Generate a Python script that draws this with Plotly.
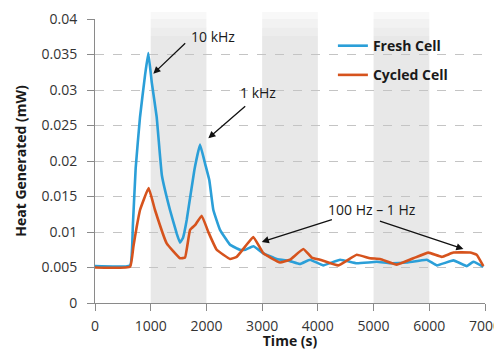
import plotly.graph_objects as go

# ---- data ----
fresh_t = [0, 630, 680, 730, 808, 900, 957, 1020, 1107, 1200, 1346, 1466, 1526, 1580, 1646, 1783, 1885, 1980, 2052,
           2124, 2244, 2424, 2603, 2700, 2842, 3022, 3262, 3500, 3680, 3860, 4093, 4399, 4698,
           5057, 5296, 5596, 5955, 6134, 6433, 6673, 6792, 6970]
fresh_v = [0.0052, 0.0053, 0.011, 0.019, 0.0262, 0.0322, 0.0352, 0.031, 0.0262, 0.018, 0.0131, 0.0098, 0.0085, 0.0092,
           0.0117, 0.0187, 0.0223, 0.0195, 0.0173, 0.0131, 0.0103, 0.0082, 0.0075, 0.0075, 0.008,
           0.007, 0.0062, 0.0059, 0.0055, 0.0061, 0.0053, 0.0061, 0.0056, 0.0058, 0.0056, 0.0057,
           0.0061, 0.0053, 0.006, 0.0052, 0.0058, 0.0051]

cycled_t = [0, 630, 690, 748, 808, 963, 1077, 1287, 1526, 1616, 1706, 1800, 1915, 2034, 2184, 2424, 2543,
            2700, 2842, 3022, 3321, 3501, 3740, 3890, 4039, 4369, 4698, 4937, 5117, 5416, 5715,
            5984, 6223, 6433, 6733, 6850, 6970]
cycled_v = [0.005, 0.0051, 0.008, 0.0107, 0.0131, 0.0162, 0.0131, 0.0084, 0.0063, 0.0064, 0.0103, 0.011,
            0.0123, 0.01, 0.0075, 0.0062, 0.0065, 0.008, 0.0093, 0.007, 0.0057, 0.0061, 0.0076,
            0.0064, 0.0061, 0.0053, 0.0068, 0.0063, 0.0062, 0.0054, 0.0063, 0.0071, 0.0065, 0.0071,
            0.0071, 0.0068, 0.0052]

shaded_bands = [(1000, 2000), (3000, 4000), (5000, 6000)]
x_ticks = [0, 1000, 2000, 3000, 4000, 5000, 6000, 7000]
y_ticks = [0, 0.005, 0.01, 0.015, 0.02, 0.025, 0.03, 0.035, 0.04]
y_tick_text = ["0", "0.005", "0.01", "0.015", "0.02", "0.025", "0.03", "0.035", "0.04"]

labels = [
    # text, text_x, text_y, [(head_x, head_y, tail_x, tail_y), ...]
    ("10 kHz", 2118, 0.0376, [(1047, 0.0323, 1646, 0.0368)]),
    ("1 kHz", 2932, 0.0296, [(2034, 0.0232, 2723, 0.0279)]),
    ("100 Hz – 1 Hz", 4967, 0.0132, [(2993, 0.0086, 4279, 0.0118), (6613, 0.0076, 5087, 0.0116)]),
]

BLUE = "#2b9fd8"
RED = "#d6531d"
FONT = "Open Sans"

fig = go.Figure()
fig.add_trace(go.Scatter(x=fresh_t, y=fresh_v, mode="lines", name="Fresh Cell", legendgroup="a",
                         line=dict(color=BLUE, width=2.6, shape="spline", smoothing=0.3)))
fig.add_trace(go.Scatter(x=cycled_t, y=cycled_v, mode="lines", name="Cycled Cell", legendgroup="b",
                         line=dict(color=RED, width=2.6, shape="spline", smoothing=0.3)))

for x0, x1 in shaded_bands:
    fig.add_shape(type="rect", xref="x", yref="paper", x0=x0, x1=x1, y0=0, y1=0.94,
                  fillcolor="#e8e8e8", line_width=0, layer="below")
    steps = [(0.94, 0.97, 0.8), (0.97, 1.0, 0.55), (1.0, 1.025, 0.3)]
    for a, b, op in steps:
        fig.add_shape(type="rect", xref="x", yref="paper", x0=x0, x1=x1, y0=a, y1=b,
                      fillcolor="#e8e8e8", opacity=op, line_width=0, layer="below")

for text, tx, ty, arrows in labels:
    fig.add_annotation(x=tx, y=ty, text=text, showarrow=False, xref="x", yref="y",
                       font=dict(family=FONT, size=14, color="#1a1a1a"))
    for hx, hy, ax, ay in arrows:
        fig.add_annotation(x=hx, y=hy, ax=ax, ay=ay, xref="x", yref="y", axref="x", ayref="y",
                           text="", showarrow=True, arrowhead=2, arrowsize=1.1, arrowwidth=1.3,
                           arrowcolor="#111")

fig.update_layout(
    width=494, height=342,
    margin=dict(l=87, r=17, t=11, b=47, autoexpand=False),
    paper_bgcolor="white", plot_bgcolor="white",
    font=dict(family=FONT, size=14, color="#333"),
    showlegend=True,
    legend=dict(x=0.61, y=0.961, xanchor="left", yanchor="top", bgcolor="rgba(0,0,0,0)",
                font=dict(family=FONT, size=14, color="#1a1a1a", weight="bold"),
                itemwidth=30, tracegroupgap=8),
)
fig.update_xaxes(range=[0, 7000], tickvals=x_ticks, showgrid=False, zeroline=False,
                 showline=True, linecolor="#8a8a8a", linewidth=1, automargin=False,
                 ticks="outside", ticklen=7, tickcolor="#8a8a8a", ticklabelstandoff=3,
                 ticklabeloverflow="allow",
                 title=dict(text="<b>Time (s)</b>", standoff=0, font=dict(size=14, color="#1a1a1a")))
fig.update_yaxes(range=[0, 0.04], tickvals=y_ticks, ticktext=y_tick_text, showgrid=True,
                 gridcolor="#c4c4c4", griddash="dash", gridwidth=1, zeroline=False,
                 showline=True, linecolor="#8a8a8a", linewidth=1, automargin=False,
                 ticks="outside", ticklen=7, tickcolor="#8a8a8a", ticklabelstandoff=7,
                 title=dict(text="<b>Heat Generated (mW)</b>", standoff=11, font=dict(size=14, color="#1a1a1a")))

fig.write_html("out.html",
               post_script="document.documentElement.style.overflow='hidden';"
                           "document.body.style.overflow='hidden';")
